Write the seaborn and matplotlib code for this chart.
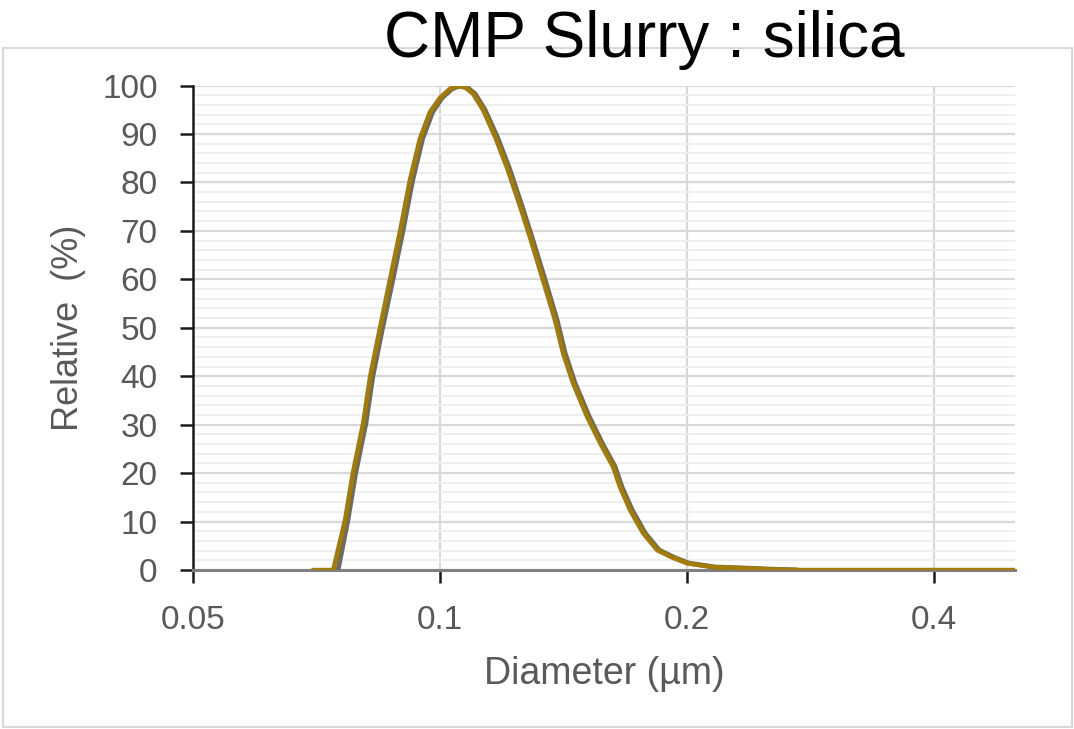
import numpy as np
import pandas as pd
import matplotlib
matplotlib.use("Agg")
import matplotlib.pyplot as plt
import matplotlib.ticker as mticker
from matplotlib.patches import Rectangle
import seaborn as sns

# Data
diam_gold = [0.0700, 0.0741, 0.0766, 0.0783, 0.0806, 0.0822, 0.0845, 0.0869, 0.0894,
             0.0919, 0.0945, 0.0972, 0.1000, 0.1028, 0.1049, 0.1073, 0.1097, 0.1128,
             0.1167, 0.1207, 0.1252, 0.1287, 0.1335, 0.1381, 0.1412, 0.1452, 0.1511,
             0.1567, 0.1625, 0.1657, 0.1704, 0.1768, 0.1839, 0.1923, 0.2000, 0.2151,
             0.2321, 0.2524, 0.2723, 0.5020]
rel_gold = [0, 0, 10.3, 20, 30.3, 40, 50, 60, 70,
            80.5, 89, 94.5, 97.5, 99.3, 99.9, 99.6, 98.3, 95,
            89.4, 83, 75, 68.7, 59.8, 51.5, 44.8, 38.6, 31.6,
            26.2, 21.3, 17.1, 12.4, 7.6, 4.1, 2.5, 1.4, 0.6,
            0.4, 0.15, 0, 0]

diam_gray = [0.0751, 0.0772, 0.0789, 0.0812, 0.0828, 0.0851, 0.0876, 0.0901, 0.0926,
             0.0952, 0.0979, 0.1006, 0.1034, 0.1055, 0.1079, 0.1103, 0.1134, 0.1174,
             0.1214, 0.1259, 0.1294, 0.1343, 0.1389, 0.1420, 0.1460, 0.1520, 0.1576,
             0.1634, 0.1666, 0.1714, 0.1778, 0.1849, 0.1934, 0.2011, 0.2163, 0.2334,
             0.2538, 0.2723]
rel_gray = [0, 10.3, 20, 30.3, 40, 50, 60, 70, 80.5,
            89, 94.5, 97.5, 99.3, 99.9, 99.6, 98.3, 95, 89.4,
            83, 75, 68.7, 59.8, 51.5, 44.8, 38.6, 31.6, 26.2,
            21.3, 17.1, 12.4, 7.6, 4.1, 2.5, 1.4, 0.6, 0.4,
            0.15, 0]

x_ticks = [0.05, 0.1, 0.2, 0.4]
x_tick_labels = ["0.05", "0.1", "0.2", "0.4"]
y_ticks = list(range(0, 101, 10))

title = "CMP Slurry : silica"
xlabel = "Diameter (µm)"
ylabel = "Relative  (%)"

sns.set_theme(style="white")
plt.rcParams['font.family'] = ['Liberation Sans', 'DejaVu Sans']

fig = plt.figure(figsize=(10.74, 7.29), dpi=100)
ax = fig.add_axes([193/1074, 1 - 570/729, (1015 - 193)/1074, (570 - 85.5)/729])

df_gray = pd.DataFrame({"d": diam_gray, "r": rel_gray})
df_gold = pd.DataFrame({"d": diam_gold, "r": rel_gold})
sns.lineplot(data=df_gray, x="d", y="r", ax=ax, color="#6b6b6b", linewidth=3.6,
             estimator=None, sort=False, zorder=3)
sns.lineplot(data=df_gold, x="d", y="r", ax=ax, color="#a37c00", linewidth=3.2,
             estimator=None, sort=False, zorder=4)
for ln in ax.lines:
    ln.set_solid_joinstyle("round")
    ln.set_solid_capstyle("round")

ax.set_xscale("log")
ax.set_xlim(0.05, 0.502)
ax.set_ylim(0, 100)
ax.xaxis.set_major_locator(mticker.FixedLocator(x_ticks))
ax.xaxis.set_major_formatter(mticker.FixedFormatter(x_tick_labels))
ax.xaxis.set_minor_locator(mticker.NullLocator())
ax.set_yticks(y_ticks)
ax.yaxis.set_minor_locator(mticker.MultipleLocator(2))

ax.grid(True, which="major", axis="both", color="#d9d9d9", linewidth=1.6, zorder=0)
ax.grid(True, which="minor", axis="y", color="#efefef", linewidth=1.4, zorder=0)
ax.set_axisbelow(True)

for s in ["top", "right"]:
    ax.spines[s].set_visible(False)
ax.spines["left"].set_color("#1a1a1a")
ax.spines["left"].set_linewidth(1.8)
ax.spines["bottom"].set_color("#808080")
ax.spines["bottom"].set_linewidth(2.2)

ax.tick_params(axis="y", which="major", direction="out", length=9.4, width=1.8,
               color="#1a1a1a", labelsize=24, labelcolor="#595959", pad=16, left=True)
ax.tick_params(axis="y", which="minor", length=0)
ax.tick_params(axis="x", which="major", direction="out", length=9.4, width=1.8,
               color="#1a1a1a", labelsize=24, labelcolor="#595959", pad=16, bottom=True)

ax.set_xlabel(xlabel, fontsize=27, color="#595959", labelpad=14)
ax.set_ylabel(ylabel, fontsize=26, color="#595959", labelpad=12)

fig.text(644/1074, 1 - 57/729, title, ha="center", va="baseline", fontsize=46,
         color="black")

fig.patches.append(Rectangle((3/1074, 1 - 727/729), (1072 - 3)/1074, (727 - 48)/729,
                             transform=fig.transFigure, fill=False,
                             edgecolor="#d9d9d9", linewidth=1.5, zorder=0))

fig.savefig("out.png", dpi=100)
